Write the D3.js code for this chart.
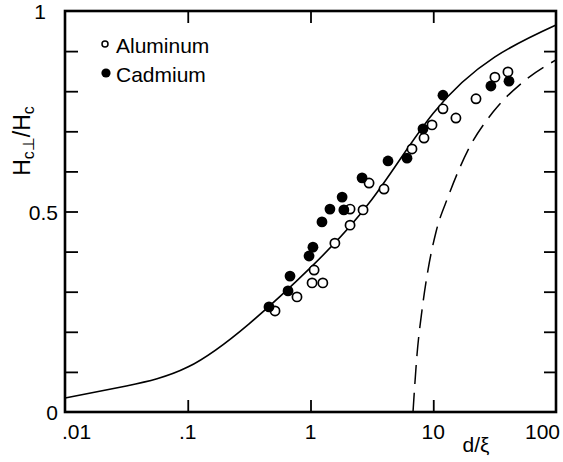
<!DOCTYPE html>
<html>
<head>
<meta charset="utf-8">
<script src="https://cdn.jsdelivr.net/npm/d3@7/dist/d3.min.js"></script>
<style>
  body { margin: 0; background: #fff; }
  svg { display: block; }
  text { font-family: "Liberation Sans", Arial, sans-serif; fill: #000; }
</style>
</head>
<body>
<svg id="chart" width="563" height="462"></svg>
<script>
// measured points, d/xi vs Hc_perp/Hc
const aluminumD = [0.514, 0.776, 1.03, 1.26, 1.07, 1.58, 2.10, 2.10, 2.68, 3.00, 3.97, 6.71, 8.41, 9.77, 12.0, 15.3, 22.3, 31.8, 40.6];
const aluminumH = [0.252, 0.287, 0.322, 0.322, 0.354, 0.421, 0.466, 0.506, 0.504, 0.571, 0.556, 0.656, 0.683, 0.716, 0.756, 0.733, 0.781, 0.835, 0.848];

const cadmiumD = [0.459, 0.656, 0.681, 0.973, 1.047, 1.24, 1.44, 1.81, 1.87, 2.63, 4.28, 6.11, 8.25, 12.0, 29.5, 41.4];
const cadmiumH = [0.262, 0.302, 0.339, 0.389, 0.411, 0.474, 0.506, 0.536, 0.504, 0.584, 0.626, 0.633, 0.706, 0.790, 0.813, 0.825];

// theory (solid) and thick-film limit (dashed)
const theoryD = [0.01, 0.0316, 0.1, 0.316, 1, 3.16, 10, 31.6, 100];
const theoryH = [0.035, 0.065, 0.112, 0.22, 0.36, 0.53, 0.745, 0.885, 0.965];

const limitD = [6.84, 7.37, 8.10, 9.06, 10.53, 13.19, 19.19, 30.68, 53.85, 100];
const limitH = [0, 0.142, 0.254, 0.354, 0.449, 0.536, 0.653, 0.748, 0.823, 0.878];

const xTicks = [0.01, 0.1, 1, 10, 100];
const xTickLabels = [".01", ".1", "1", "10", "100"];
const yTicks = [0, 0.5, 1];
const yTickLabels = ["0", "0.5", "1"];

const width = 563, height = 462;
const margin = { top: 11, right: 7, bottom: 50, left: 65 };

const svg = d3.select("#chart");

const x = d3.scaleLog()
  .domain([0.01, 100])
  .range([margin.left, width - margin.right]);

const y = d3.scaleLinear()
  .domain([0, 1])
  .range([height - margin.bottom, margin.top]);

const minorY = d3.range(1, 10).map(i => i / 10);
const innerX = xTicks.slice(1, -1);

// inward ticks on all four sides
svg.append("g")
  .attr("transform", `translate(${margin.left},0)`)
  .call(d3.axisLeft(y).tickValues(minorY).tickSize(-13).tickFormat(""))
  .call(g => g.select(".domain").remove());

svg.append("g")
  .attr("transform", `translate(${width - margin.right},0)`)
  .call(d3.axisRight(y).tickValues(minorY).tickSize(-12).tickFormat(""))
  .call(g => g.select(".domain").remove());

svg.append("g")
  .attr("transform", `translate(0,${height - margin.bottom})`)
  .call(d3.axisBottom(x).tickValues(innerX).tickSize(-12).tickFormat(""))
  .call(g => g.select(".domain").remove());

svg.append("g")
  .attr("transform", `translate(0,${margin.top})`)
  .call(d3.axisTop(x).tickValues(innerX).tickSize(-12).tickFormat(""))
  .call(g => g.select(".domain").remove());

svg.selectAll(".tick line").attr("stroke", "#000").attr("stroke-width", 1.8);

// frame
svg.append("rect")
  .attr("x", margin.left)
  .attr("y", margin.top)
  .attr("width", width - margin.left - margin.right)
  .attr("height", height - margin.top - margin.bottom)
  .attr("fill", "none")
  .attr("stroke", "#000")
  .attr("stroke-width", 2.6);

// tick labels
svg.append("g")
  .selectAll("text")
  .data(xTicks)
  .join("text")
  .attr("x", (d, i) => x(d) + (i === 0 ? -3 : i === xTicks.length - 1 ? 4 : 0))
  .attr("y", 439)
  .attr("text-anchor", (d, i) => i === 0 ? "start" : i === xTicks.length - 1 ? "end" : "middle")
  .style("font-size", "21px")
  .text((d, i) => xTickLabels[i]);

svg.append("g")
  .selectAll("text")
  .data(yTicks)
  .join("text")
  .attr("x", d => d === 1 ? 46 : 58)
  .attr("y", d => y(d) + 8)
  .attr("text-anchor", "end")
  .style("font-size", "21px")
  .text((d, i) => yTickLabels[i]);

// axis titles
svg.append("text")
  .attr("x", 476)
  .attr("y", 452)
  .attr("text-anchor", "middle")
  .style("font-size", "21px")
  .text("d/ξ");

const ylab = svg.append("text")
  .attr("transform", "translate(30,141) rotate(-90)")
  .attr("text-anchor", "middle")
  .style("font-size", "23px");
ylab.append("tspan").text("H");
ylab.append("tspan").attr("dy", 4).style("font-size", "16px").text("c⊥");
ylab.append("tspan").attr("dy", -4).text("/H");
ylab.append("tspan").attr("dy", 4).style("font-size", "16px").text("c");

// curves
const line = d3.line()
  .x(d => x(d[0]))
  .y(d => y(d[1]));

svg.append("path")
  .datum(d3.zip(theoryD, theoryH))
  .attr("d", line.curve(d3.curveNatural))
  .attr("fill", "none")
  .attr("stroke", "#000")
  .attr("stroke-width", 1.6);

svg.append("path")
  .datum(d3.zip(limitD, limitH))
  .attr("d", line.curve(d3.curveMonotoneX))
  .attr("fill", "none")
  .attr("stroke", "#000")
  .attr("stroke-width", 1.5)
  .attr("stroke-dasharray", "19,9");

// data points
svg.append("g")
  .selectAll("circle")
  .data(d3.zip(aluminumD, aluminumH))
  .join("circle")
  .attr("cx", d => x(d[0]))
  .attr("cy", d => y(d[1]))
  .attr("r", 4.6)
  .attr("fill", "#fff")
  .attr("stroke", "#000")
  .attr("stroke-width", 1.7);

svg.append("g")
  .selectAll("circle")
  .data(d3.zip(cadmiumD, cadmiumH))
  .join("circle")
  .attr("cx", d => x(d[0]))
  .attr("cy", d => y(d[1]))
  .attr("r", 5.4)
  .attr("fill", "#000");

// legend
const legend = svg.append("g");
legend.append("circle")
  .attr("cx", 105).attr("cy", 44).attr("r", 3)
  .attr("fill", "#fff").attr("stroke", "#000").attr("stroke-width", 1.5);
legend.append("text")
  .attr("x", 116).attr("y", 53)
  .style("font-size", "21px")
  .text("Aluminum");
legend.append("circle")
  .attr("cx", 106).attr("cy", 73).attr("r", 4.6)
  .attr("fill", "#000");
legend.append("text")
  .attr("x", 116).attr("y", 82)
  .style("font-size", "21px")
  .text("Cadmium");
</script>
</body>
</html>
